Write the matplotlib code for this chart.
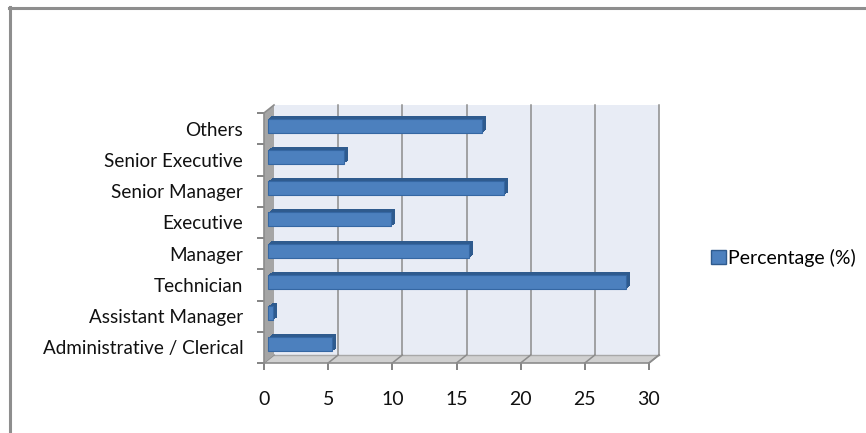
import matplotlib
matplotlib.use("Agg")
import matplotlib.pyplot as plt
from matplotlib.patches import Polygon, Rectangle, Patch
from matplotlib.lines import Line2D
import numpy as np

categories = ["Administrative / Clerical", "Assistant Manager", "Technician",
              "Manager", "Executive", "Senior Manager", "Senior Executive", "Others"]
values = [5.0, 0.4, 27.9, 15.7, 9.6, 18.4, 5.9, 16.7]
xticks = [0, 5, 10, 15, 20, 25, 30]
series_name = "Percentage (%)"

plt.rcParams['font.family'] = ['Lato', 'DejaVu Sans']

W, H = 866, 433
fig = plt.figure(figsize=(W / 100, H / 100), dpi=100)
ax_l, ax_r, ax_t, ax_b = 264, 649, 113, 363
ax = fig.add_axes([ax_l / W, 1 - ax_b / H, (ax_r - ax_l) / W, (ax_b - ax_t) / H])
xmin, xmax = 0, 30
ymin, ymax = -0.5, len(categories) - 0.5
ax.set_xlim(xmin, xmax)
ax.set_ylim(ymin, ymax)
for s in ax.spines.values():
    s.set_visible(False)
ax.patch.set_visible(False)

ux = (xmax - xmin) / (ax_r - ax_l)   # data units per pixel
uy = (ymax - ymin) / (ax_b - ax_t)

# depth offsets (pixels)
bdx, bdy = 10, 8
BX, BY = bdx * ux, bdy * uy

# back wall
ax.add_patch(Rectangle((xmin + BX, ymin + BY), xmax - xmin, ymax - ymin,
                       facecolor="#E8ECF5", edgecolor="none", zorder=1, clip_on=False))
for xv in xticks[1:]:
    ax.plot([xv + BX, xv + BX], [ymin + BY, ymax + BY], color="#8C8C8C", lw=1.1,
            zorder=2, clip_on=False)
# floor
ax.add_patch(Polygon([(xmin, ymin), (xmax, ymin), (xmax + BX, ymin + BY), (xmin + BX, ymin + BY)],
                     closed=True, facecolor="#D0D0D0", edgecolor="none", zorder=2, clip_on=False))
ax.plot([xmin + BX, xmax + BX], [ymin + BY, ymin + BY], color="#A8A8A8", lw=1, zorder=2, clip_on=False)
for xv in xticks:
    ax.plot([xv, xv + BX], [ymin, ymin + BY], color="#8C8C8C", lw=1.1, zorder=3, clip_on=False)
# left wall
ax.add_patch(Polygon([(xmin, ymin), (xmin + BX, ymin + BY), (xmin + BX, ymax + BY), (xmin, ymax)],
                     closed=True, facecolor="#A5A5A5", edgecolor="none", zorder=3, clip_on=False))

# bars (front face offset + extrusion sweep)
fdx, fdy = 4, 3
edx, edy = 8, 6
bh = 0.45
ypos = np.arange(len(categories))
for k in np.linspace(1, 0, 9):
    ox = (fdx + (edx - fdx) * k) * ux
    oy = (fdy + (edy - fdy) * k) * uy
    ax.barh(ypos + oy, values, height=bh, left=ox, color="#2F5B8E", edgecolor="none",
            zorder=4, clip_on=False)
bars = ax.barh(ypos + fdy * uy, values, height=bh, left=fdx * ux, color="#4C80BE",
               edgecolor="#3567A3", linewidth=0.8, zorder=5, clip_on=False)

# front axis lines and ticks
ax.plot([xmin, xmax], [ymin, ymin], color="#8C8C8C", lw=1.2, zorder=6, clip_on=False)
ax.plot([xmin, xmin], [ymin, ymax], color="#8C8C8C", lw=1.2, zorder=6, clip_on=False)
ax.plot([xmax, xmax + BX], [ymin, ymin + BY], color="#8C8C8C", lw=1.2, zorder=6, clip_on=False)
ax.plot([xmin, xmin + BX], [ymax, ymax + BY], color="#8C8C8C", lw=1.2, zorder=6, clip_on=False)

ax.set_xticks(xticks)
ax.set_xticklabels([str(t) for t in xticks])
ax.tick_params(axis="x", length=5, width=1.2, color="#6E6E6E", pad=15, labelsize=14,
               labelcolor="#111111")
ax.set_yticks(ypos)
ax.set_yticklabels(categories)
ax.set_yticks(np.arange(ymin, ymax + 0.01, 1.0), minor=True)
ax.tick_params(axis="y", which="major", length=0, pad=15, labelsize=13.6,
               labelcolor="#111111")
ax.tick_params(axis="y", which="minor", length=5, width=1.2, color="#6E6E6E")

# legend
handle = Patch(facecolor="#4C80BE", edgecolor="#2F5B8E", linewidth=1)
fig.legend([handle], [series_name], loc="center left",
           bbox_to_anchor=(711 / W, 1 - 258 / H), frameon=False, fontsize=14,
           handlelength=0.75, handleheight=0.75, handletextpad=0.15, borderpad=0,
           borderaxespad=0)

# outer frame
fig.add_artist(Line2D([9.5 / W, 9.5 / W], [0, 1 - 7 / H], color="#8E8E8E", lw=2.2,
                      transform=fig.transFigure))
fig.add_artist(Line2D([8.5 / W, 1], [1 - 8 / H, 1 - 8 / H], color="#8E8E8E", lw=2.2,
                      transform=fig.transFigure))

fig.savefig("out.png", dpi=100, facecolor="white")
